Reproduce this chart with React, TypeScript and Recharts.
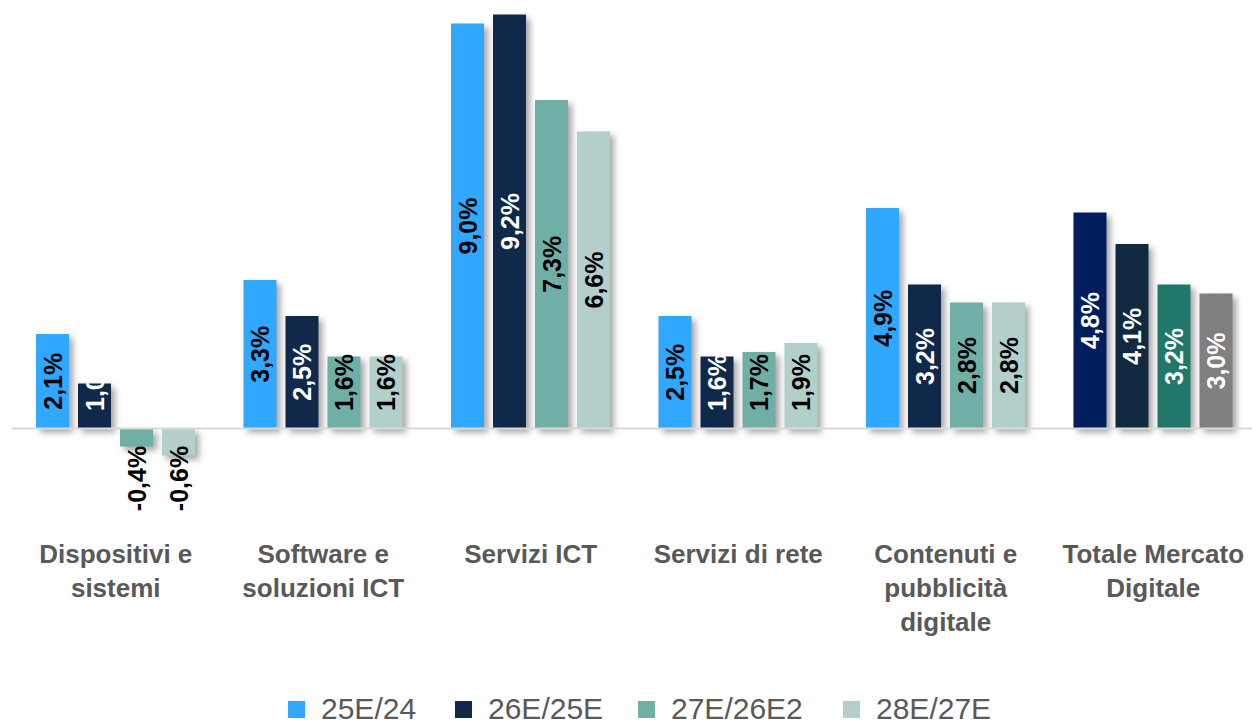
import React from "react";
import { BarChart, Bar, XAxis, YAxis, Cell, LabelList, Legend, ReferenceLine } from "recharts";

const categories = [
  "Dispositivi e\nsistemi",
  "Software e\nsoluzioni ICT",
  "Servizi ICT",
  "Servizi di rete",
  "Contenuti e\npubblicità\ndigitale",
  "Totale Mercato\nDigitale",
];
const seriesNames = ["25E/24", "26E/25E", "27E/26E2", "28E/27E"];
const s25 = [2.1, 3.3, 9.0, 2.5, 4.9, 4.8];
const s26 = [1.0, 2.5, 9.2, 1.6, 3.2, 4.1];
const s27 = [-0.4, 1.6, 7.3, 1.7, 2.8, 3.2];
const s28 = [-0.6, 1.6, 6.6, 1.9, 2.8, 3.0];

const colors = ["#31A8FF", "#10294A", "#6FAFA5", "#B2CFCB"];
const totalColors = ["#001E5E", "#11293F", "#22776B", "#808080"];
const labelColors = ["#000000", "#ffffff", "#000000", "#000000"];
const keys = ["a", "b", "c", "d"];
const FONT = "'Liberation Sans', Arial, sans-serif";

const data = categories.map((name, i) => ({
  name,
  a: s25[i],
  b: s26[i],
  c: s27[i],
  d: s28[i],
}));

const fmt = (v: number) => v.toFixed(1).replace(".", ",") + "%";

function makeLabel(series: number) {
  return (props: any) => {
    const { x, y, width, height, value, index } = props;
    const v = Number(value);
    const top = Math.min(y, y + height);
    const bottom = Math.max(y, y + height);
    const cx = x + width / 2;
    let cy: number;
    let fill: string;
    if (v < 0) {
      cy = top + 50;
      fill = "#000000";
    } else {
      cy = Math.min((top + bottom) / 2, bottom - 46);
      fill = index === categories.length - 1 ? "#ffffff" : labelColors[series];
    }
    return (
      <text
        x={cx}
        y={cy}
        transform={`rotate(-90, ${cx}, ${cy})`}
        textAnchor="middle"
        dominantBaseline="central"
        fontFamily={FONT}
        fontWeight={700}
        fontSize={25}
        fill={fill}
      >
        {fmt(v)}
      </text>
    );
  };
}

function CategoryTick({ x, y, payload }: any) {
  const lines = String(payload.value).split("\n");
  return (
    <text x={x} y={y + 67} textAnchor="middle" fill="#595959" fontFamily={FONT} fontWeight={700} fontSize={26}>
      {lines.map((l, i) => (
        <tspan key={i} x={x} dy={i === 0 ? 0 : 34}>
          {l}
        </tspan>
      ))}
    </text>
  );
}

const legendWidths = [167, 183, 205, 160];

function LegendContent() {
  return (
    <div style={{ display: "flex", justifyContent: "flex-start", paddingLeft: 288, fontFamily: FONT, height: 30 }}>
      {seriesNames.map((n, i) => (
        <div key={n} style={{ display: "flex", alignItems: "center", width: legendWidths[i], height: 30 }}>
          <span style={{ display: "inline-block", width: 17, height: 17, background: colors[i], marginRight: 16 }} />
          <span style={{ fontSize: 30, color: "#595959", lineHeight: "30px", whiteSpace: "nowrap" }}>{n}</span>
        </div>
      ))}
    </div>
  );
}

export default function App() {
  return (
    <div style={{ position: "absolute", left: 0, top: 0, width: 1252, height: 724, overflow: "hidden", background: "#fff" }}>
      <style>{`.recharts-bar-rectangle path{filter:drop-shadow(4px 4px 3px rgba(0,0,0,0.35))}`}</style>
      <BarChart
        width={1260}
        height={724}
        data={data}
        margin={{ top: 1, right: 3, left: 12, bottom: 10 }}
        barSize={33}
        barGap={9}
      >
        <XAxis
          dataKey="name"
          axisLine={false}
          tickLine={false}
          tickSize={0}
          tickMargin={0}
          interval={0}
          height={188}
          tick={<CategoryTick />}
        />
        <YAxis hide domain={[-1.5, 9.5]} />
        <ReferenceLine y={0} stroke="#D9D9D9" strokeWidth={2} />
        {keys.map((k, si) => (
          <Bar key={k} dataKey={k} name={seriesNames[si]} fill={colors[si]} isAnimationActive={false}>
            {data.map((_, ci) => (
              <Cell key={ci} fill={ci === categories.length - 1 ? totalColors[si] : colors[si]} />
            ))}
            <LabelList dataKey={k} content={makeLabel(si)} />
          </Bar>
        ))}
        <Legend content={<LegendContent />} verticalAlign="bottom" wrapperStyle={{ position: "absolute", left: 0, top: 694, width: 1252, height: 30 }} />
      </BarChart>
    </div>
  );
}
